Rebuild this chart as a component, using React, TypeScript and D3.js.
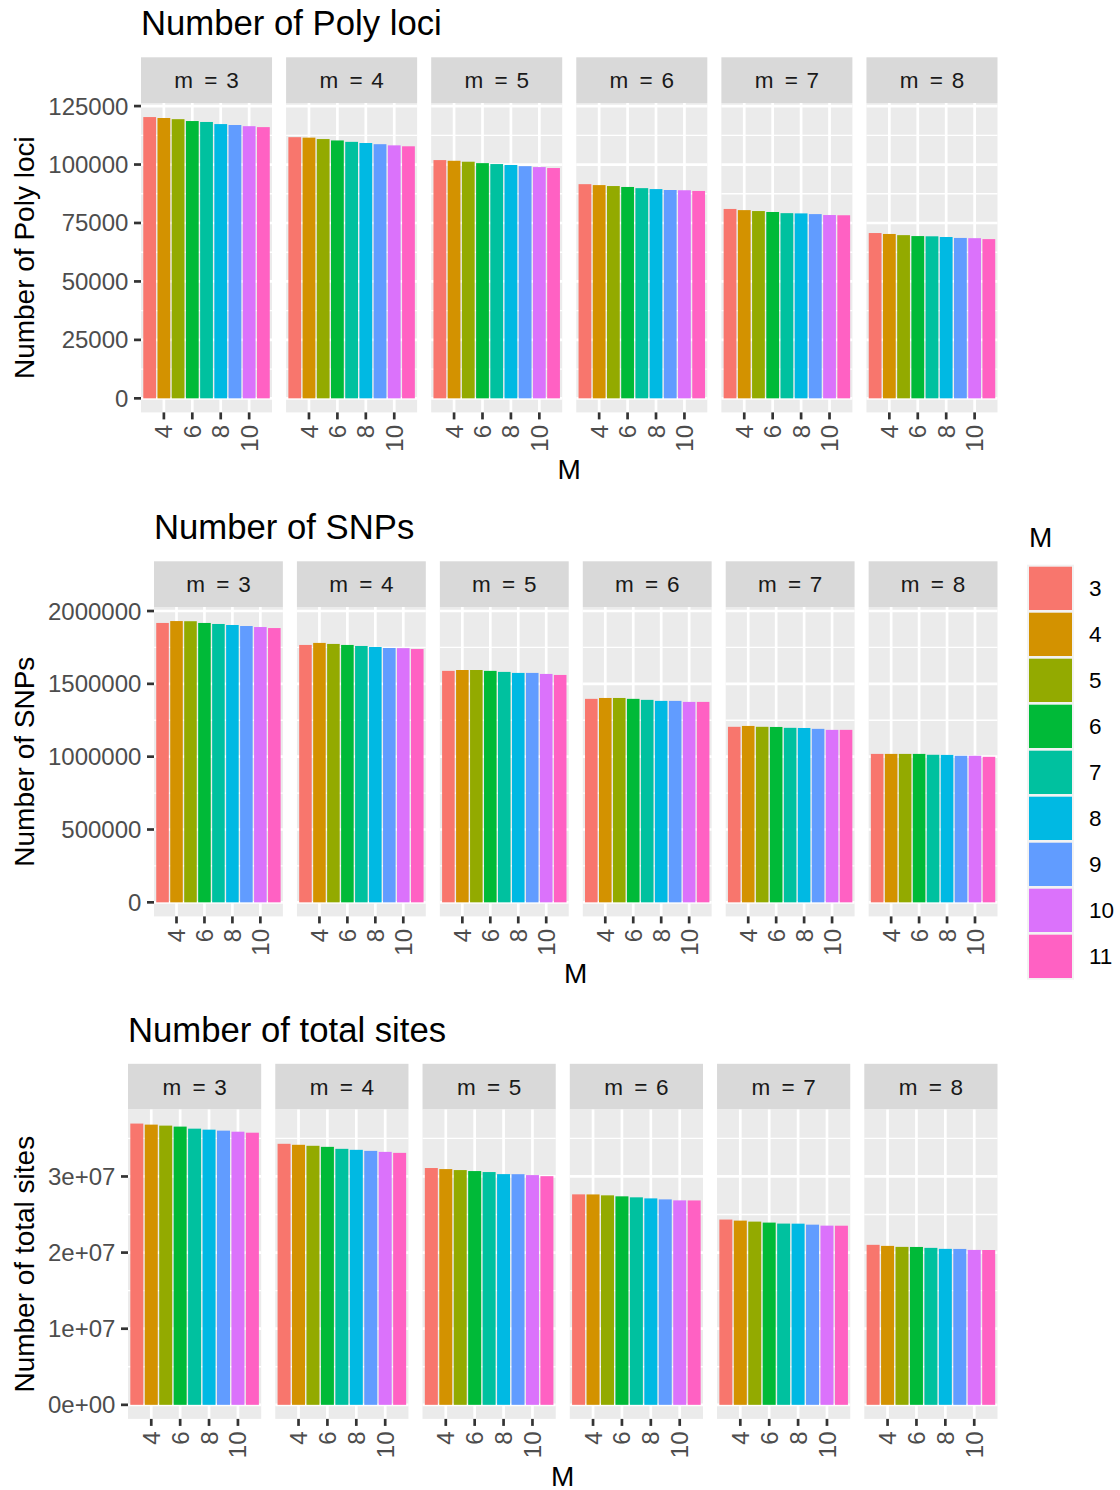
import React from 'react';
import * as d3 from 'd3';

const facetM = [3, 4, 5, 6, 7, 8];
const bigM = [3, 4, 5, 6, 7, 8, 9, 10, 11];
const xTicks = [4, 6, 8, 10];

const polyLoci = [
  [120300, 119900, 119400, 118600, 118200, 117300, 116900, 116400, 116000],
  [111700, 111500, 110900, 110300, 109700, 109200, 108700, 108200, 107800],
  [101900, 101600, 101200, 100600, 100200, 99800, 99300, 98900, 98500],
  [91600, 91200, 90800, 90400, 89900, 89500, 89100, 89000, 88700],
  [81000, 80500, 80100, 79700, 79200, 79100, 78800, 78400, 78300],
  [70700, 70300, 69800, 69400, 69300, 69000, 68600, 68500, 68100],
];
const snps = [
  [1918000, 1931000, 1930000, 1918000, 1911000, 1904000, 1897000, 1890000, 1883000],
  [1767000, 1781000, 1774000, 1767000, 1760000, 1753000, 1746000, 1745000, 1739000],
  [1589000, 1595000, 1595000, 1589000, 1582000, 1575000, 1575000, 1568000, 1561000],
  [1397000, 1403000, 1403000, 1397000, 1390000, 1383000, 1383000, 1376000, 1376000],
  [1205000, 1211000, 1205000, 1204000, 1198000, 1197000, 1191000, 1184000, 1184000],
  [1019000, 1019000, 1019000, 1019000, 1013000, 1012000, 1006000, 1006000, 999000],
];
const totalSites = [
  [36950000, 36810000, 36680000, 36550000, 36280000, 36150000, 36020000, 35880000, 35750000],
  [34290000, 34160000, 34030000, 33890000, 33630000, 33500000, 33360000, 33230000, 33100000],
  [31110000, 30970000, 30840000, 30710000, 30580000, 30310000, 30300000, 30180000, 30040000],
  [27650000, 27640000, 27520000, 27390000, 27260000, 27120000, 26990000, 26860000, 26850000],
  [24340000, 24200000, 24070000, 23940000, 23810000, 23800000, 23670000, 23540000, 23530000],
  [21020000, 20880000, 20750000, 20740000, 20620000, 20490000, 20480000, 20350000, 20340000],
];

const polyTicks = [0, 25000, 50000, 75000, 100000, 125000];
const polyTickLabels = ['0', '25000', '50000', '75000', '100000', '125000'];
const snpTicks = [0, 500000, 1000000, 1500000, 2000000];
const snpTickLabels = ['0', '500000', '1000000', '1500000', '2000000'];
const siteTicks = [0, 10000000, 20000000, 30000000];
const siteTickLabels = ['0e+00', '1e+07', '2e+07', '3e+07'];

const palette = ['#F8766D', '#D39200', '#93AA00', '#00BA38', '#00C19F', '#00B9E3', '#619CFF', '#DB72FB', '#FF61C3'];

const FONT = '"Liberation Sans", Arial, Helvetica, sans-serif';
const AXIS_TEXT_FS = 24;
const STRIP_FS = 22.5;
const LEGEND_FS = 22.5;
const TITLE_FS = 34.7;
const AXIS_FS = 28;
const GRID_MAJOR = 2.7;
const GRID_MINOR = 1.35;

type PlotSpec = {
  title: string;
  yTitle: string;
  values: number[][];
  ticks: number[];
  labels: string[];
  offsetY: number;
  left: number;
};

const plots: PlotSpec[] = [
  { title: 'Number of Poly loci', yTitle: 'Number of Poly loci', values: polyLoci, ticks: polyTicks, labels: polyTickLabels, offsetY: 0, left: 141 },
  { title: 'Number of SNPs', yTitle: 'Number of SNPs', values: snps, ticks: snpTicks, labels: snpTickLabels, offsetY: 504, left: 154 },
  { title: 'Number of total sites', yTitle: 'Number of total sites', values: totalSites, ticks: siteTicks, labels: siteTickLabels, offsetY: 1006.5, left: 128 },
];

function Plot({ spec }: { spec: PlotSpec }) {
  const oy = spec.offsetY;
  const stripTop = oy + 57.3;
  const panelTop = oy + 103;
  const panelBottom = oy + 412.4;
  const right = 997.5;
  const gap = 14.06;
  const L = spec.left;
  const w = (right - L - 5 * gap) / 6;
  const maxV = d3.max(spec.values.flat()) as number;
  const y = d3.scaleLinear().domain([-0.05 * maxV, 1.05 * maxV]).range([panelBottom, panelTop]);
  const step = spec.ticks[1] - spec.ticks[0];
  const minor = spec.ticks
    .map((t) => t + step / 2)
    .concat([spec.ticks[0] - step / 2])
    .filter((t) => t > y.domain()[0] && t < y.domain()[1]);
  const tickEnd = 7;
  const tickPad = 5.6;

  return (
    <g>
      <text x={L} y={oy + 35} fontSize={TITLE_FS} fill="#000" fontFamily={FONT}>{spec.title}</text>
      <text
        transform={`translate(34, ${(panelTop + panelBottom) / 2}) rotate(-90)`}
        textAnchor="middle"
        fontSize={AXIS_FS}
        fill="#000"
        fontFamily={FONT}
      >
        {spec.yTitle}
      </text>
      {spec.ticks.map((t, i) => (
        <g key={'yt' + i}>
          <line x1={L - tickEnd} x2={L} y1={y(t)} y2={y(t)} stroke="#333333" strokeWidth={2.7} />
          <text
            x={L - tickEnd - tickPad}
            y={y(t) + 0.355 * AXIS_TEXT_FS}
            textAnchor="end"
            fontSize={AXIS_TEXT_FS}
            fill="#4D4D4D"
            fontFamily={FONT}
          >
            {spec.labels[i]}
          </text>
        </g>
      ))}
      {facetM.map((m, fi) => {
        const px = L + fi * (w + gap);
        const x = d3.scaleLinear().domain([2.39, 11.61]).range([px, px + w]);
        const vals = spec.values[fi];
        const cx = px + w / 2;
        return (
          <g key={'p' + fi}>
            <rect x={px} y={stripTop} width={w} height={panelTop - stripTop} fill="#D9D9D9" />
            <text x={cx} y={(stripTop + panelTop) / 2 + 0.355 * STRIP_FS} textAnchor="middle" fontSize={STRIP_FS} fill="#1A1A1A" fontFamily={FONT}>
              <tspan>m</tspan>
              <tspan dx={5}> =</tspan>
              <tspan dx={2.5}> {m}</tspan>
            </text>
            <rect x={px} y={panelTop} width={w} height={panelBottom - panelTop} fill="#EBEBEB" />
            {minor.map((t, i) => (
              <line key={'mn' + i} x1={px} x2={px + w} y1={y(t)} y2={y(t)} stroke="#fff" strokeWidth={GRID_MINOR} />
            ))}
            {spec.ticks.map((t, i) => (
              <line key={'mj' + i} x1={px} x2={px + w} y1={y(t)} y2={y(t)} stroke="#fff" strokeWidth={GRID_MAJOR} />
            ))}
            {xTicks.map((t, i) => (
              <line key={'vx' + i} x1={x(t)} x2={x(t)} y1={panelTop} y2={panelBottom} stroke="#fff" strokeWidth={GRID_MAJOR} />
            ))}
            {bigM.map((M, bi) => (
              <rect
                key={'b' + bi}
                x={x(M - 0.45)}
                width={x(M + 0.45) - x(M - 0.45)}
                y={y(vals[bi])}
                height={y(0) - y(vals[bi])}
                fill={palette[bi]}
              />
            ))}
            {xTicks.map((t, i) => (
              <g key={'xt' + i}>
                <line x1={x(t)} x2={x(t)} y1={panelBottom} y2={panelBottom + tickEnd} stroke="#333333" strokeWidth={2.7} />
                <text
                  transform={`translate(${x(t)}, ${panelBottom + tickEnd + tickPad}) rotate(-90)`}
                  dy="0.355em"
                  textAnchor="end"
                  fontSize={AXIS_TEXT_FS}
                  fill="#4D4D4D"
                  fontFamily={FONT}
                >
                  {t}
                </text>
              </g>
            ))}
          </g>
        );
      })}
      <text x={(L + right) / 2} y={oy + 479} textAnchor="middle" fontSize={AXIS_FS} fill="#000" fontFamily={FONT}>M</text>
    </g>
  );
}

function Legend() {
  const x0 = 1029;
  const y0 = 566.7;
  const keyStep = 46;
  const keyW = 43;
  const keyH = 43.3;
  return (
    <g>
      <text x={x0} y={547} fontSize={AXIS_FS} fill="#000" fontFamily={FONT}>M</text>
      <rect x={x0 - 2} y={y0 - 2} width={keyW + 4} height={keyStep * bigM.length + 1} fill="#F2F2F2" />
      {bigM.map((M, i) => (
        <g key={'lg' + i}>
          <rect x={x0} y={y0 + i * keyStep} width={keyW} height={keyH} fill={palette[i]} />
          <text x={1089} y={y0 + i * keyStep + keyH / 2 + 0.355 * LEGEND_FS} fontSize={LEGEND_FS} fill="#000" fontFamily={FONT}>{M}</text>
        </g>
      ))}
    </g>
  );
}

export default function App() {
  return (
    <div style={{ position: 'absolute', left: 0, top: 0 }}>
      <svg width={1120} height={1490} style={{ display: 'block', background: '#fff' }}>
        <rect x={0} y={0} width={1120} height={1490} fill="#fff" />
        {plots.map((p, i) => (
          <Plot key={i} spec={p} />
        ))}
        <Legend />
      </svg>
    </div>
  );
}
